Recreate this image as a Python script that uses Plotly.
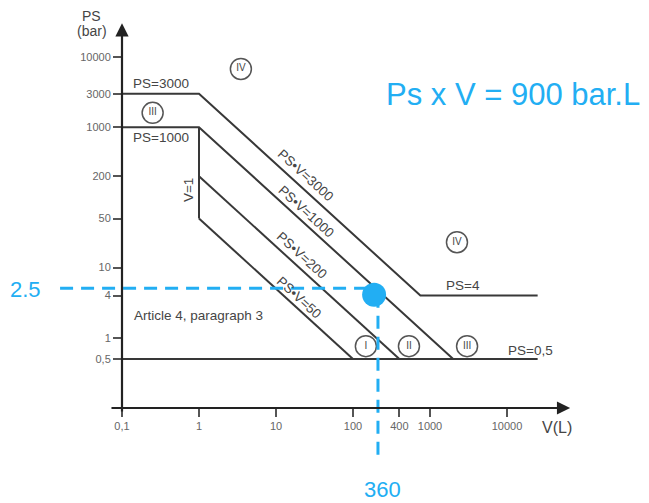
import numpy as np
import plotly.graph_objects as go

# ---- Boundary lines of the PED chart (V in litres, PS in bar) ----
ps3000_V = [0.1, 1, 750, 25000]
ps3000_PS = [3000, 3000, 4, 4]
ps1000_V = [0.1, 1, 2000]
ps1000_PS = [1000, 1000, 0.5]
v1_V = [1, 1]
v1_PS = [1000, 50]
psv200_V = [1, 400]
psv200_PS = [200, 0.5]
psv50_V = [1, 100]
psv50_PS = [50, 0.5]
ps05_V = [0.1, 25000]
ps05_PS = [0.5, 0.5]

# ---- Axis ticks ----
x_tickvals = [0.1, 1, 10, 100, 400, 1000, 10000]
x_ticktext = ["0,1", "1", "10", "100", "400", "1000", "10000"]
y_tickvals = [0.5, 1, 4, 10, 50, 200, 1000, 3000, 10000]
y_ticktext = ["0,5", "1", "4", "10", "50", "200", "1000", "3000", "10000"]

# ---- Category circles ----
cat_labels = ["III", "IV", "IV", "I", "II", "III"]
cat_V = [0.25, 3.5, 2240, 147, 533, 3030]
cat_PS = [1600, 6750, 23, 0.76, 0.76, 0.76]

# ---- Highlighted point (as drawn on the picture) ----
point_text_V = "360"
point_text_PS = "2.5"
point_V = 188
point_PS = 4.1
guide_V = 211      # vertical dashed guide
guide_PS = 5.1     # horizontal dashed guide
guide_V_start = 0.0157
guide_PS_end = 0.018

LINE = "#383838"
TXT = "#454545"
BLUE = "#22AEF3"
FONT = "Liberation Sans, Arial, sans-serif"

# figure size (page has an 8px body margin)
W, H = 641, 495
X0, Y0 = 114, 400          # figure pixel of origin (V=0.1, PS=0.1)
PX_DEC_X, PX_DEC_Y = 77.0, 70.2

fig = go.Figure()

def add_line(V, PS):
    fig.add_trace(go.Scatter(x=V, y=PS, mode="lines",
                             line=dict(color=LINE, width=2),
                             hoverinfo="skip", showlegend=False))

for V, PS in [(ps3000_V, ps3000_PS), (ps1000_V, ps1000_PS), (v1_V, v1_PS),
              (psv200_V, psv200_PS), (psv50_V, psv50_PS), (ps05_V, ps05_PS)]:
    add_line(V, PS)

# category circles
fig.add_trace(go.Scatter(x=cat_V, y=cat_PS, mode="markers+text", text=cat_labels,
                         textposition="middle center",
                         textfont=dict(size=10, color=TXT, family=FONT),
                         marker=dict(symbol="circle-open", size=21,
                                     line=dict(color="#555", width=1.5), color="#555"),
                         hoverinfo="skip", showlegend=False))

# blue dashed guides
fig.add_trace(go.Scatter(x=[guide_V_start, point_V], y=[guide_PS, guide_PS], mode="lines",
                         line=dict(color=BLUE, width=3, dash="13px,8px"),
                         hoverinfo="skip", showlegend=False))
fig.add_trace(go.Scatter(x=[guide_V, guide_V], y=[point_PS, guide_PS_end], mode="lines",
                         line=dict(color=BLUE, width=3, dash="13px,8px"),
                         hoverinfo="skip", showlegend=False))
fig.add_trace(go.Scatter(x=[point_V], y=[point_PS], mode="markers",
                         marker=dict(color=BLUE, size=24),
                         hoverinfo="skip", showlegend=False))

L = np.log10
ann = []

def txt(V, PS, s, size=13.5, angle=0, color=TXT, xanchor="center"):
    ann.append(dict(x=L(V), y=L(PS), xref="x", yref="y", text=s, showarrow=False,
                    textangle=angle, xanchor=xanchor, yanchor="middle",
                    font=dict(size=size, color=color, family=FONT)))

ang = float(np.degrees(np.arctan(PX_DEC_Y / PX_DEC_X)))
txt(0.32, 4260, "PS=3000")
txt(0.32, 725, "PS=1000")
txt(0.72, 127, "V=1", angle=-90)
txt(24.5, 208, "PS•V=3000", angle=ang)
txt(24.5, 62, "PS•V=1000", angle=ang)
txt(21.8, 15.1, "PS•V=200", angle=ang)
txt(19.9, 3.8, "PS•V=50", angle=ang)
txt(0.135, 2.05, "Article 4, paragraph 3", xanchor="left")
txt(2690, 5.65, "PS=4")
txt(19900, 0.67, "PS=0,5")

# blue texts
txt(0.00566, 4.8, point_text_PS, size=22, color=BLUE)
txt(245, 0.0068, point_text_V, size=22, color=BLUE)
txt(11970, 2970, "Ps x V = 900 bar.L", size=31, color=BLUE)

# axis arrows
ann.append(dict(x=L(10 ** 4.82), y=L(0.1), ax=L(0.0698), ay=L(0.1),
                xref="x", yref="y", axref="x", ayref="y", text="",
                showarrow=True, arrowhead=2, arrowsize=1.2, arrowwidth=2.2,
                arrowcolor="#222"))
ann.append(dict(x=L(0.1), y=L(10 ** 4.48), ax=L(0.1), ay=L(0.085),
                xref="x", yref="y", axref="x", ayref="y", text="",
                showarrow=True, arrowhead=2, arrowsize=1.2, arrowwidth=2.2,
                arrowcolor="#222"))

def paper(P, Q):
    return (P - 8) / W, 1 - (Q - 8) / H

# axis titles
for (P, Q), s, size in [((91, 16), "PS", 14), ((92, 31), "(bar)", 14), ((557, 427), "V(L)", 16)]:
    px_, py_ = paper(P, Q)
    ann.append(dict(x=px_, y=py_, xref="paper", yref="paper", text=s,
                    xanchor="center", yanchor="middle",
                    showarrow=False, font=dict(size=size, color=TXT, family=FONT)))

fig.update_layout(
    width=W, height=H,
    margin=dict(l=0, r=0, t=0, b=0),
    paper_bgcolor="white", plot_bgcolor="white",
    annotations=ann,
    xaxis=dict(type="log", range=[-1 - X0 / PX_DEC_X, -1 + (W - X0) / PX_DEC_X],
               anchor="free", position=(H - Y0) / H,
               showgrid=False, zeroline=False, showline=False,
               tickmode="array", tickvals=x_tickvals, ticktext=x_ticktext,
               ticks="outside", ticklen=8, tickwidth=1.5, tickcolor="#555",
               tickfont=dict(size=11, color="#666", family=FONT)),
    yaxis=dict(type="log", range=[-1 - (H - Y0) / PX_DEC_Y, -1 + Y0 / PX_DEC_Y],
               anchor="free", position=X0 / W,
               showgrid=False, zeroline=False, showline=False,
               tickmode="array", tickvals=y_tickvals, ticktext=y_ticktext,
               ticks="outside", ticklen=9, tickwidth=1.5, tickcolor="#555",
               tickfont=dict(size=11, color="#666", family=FONT)),
    showlegend=False,
)

fig.write_html("out.html")
